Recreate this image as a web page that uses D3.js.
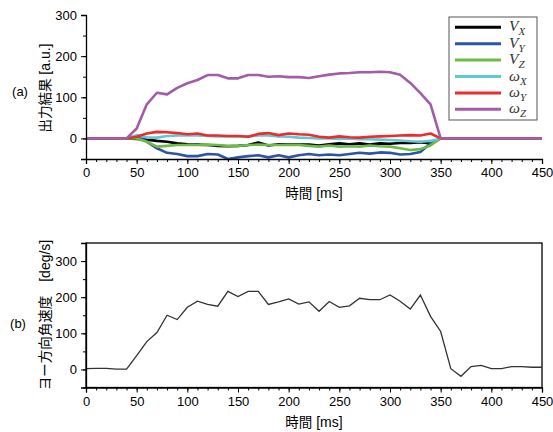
<!DOCTYPE html>
<html lang="ja">
<head>
<meta charset="utf-8">
<script src="https://d3js.org/d3.v7.min.js"></script>
<style>
  body { margin: 0; background: #fff; }
  svg text { font-family: "Liberation Sans", Arial, sans-serif; }
  .cjk { font-family: "Noto Sans CJK JP", sans-serif; }
  .math { font-family: "Liberation Serif", "DejaVu Serif", serif; font-style: italic; }
</style>
</head>
<body>
<svg id="chart" width="553" height="432"></svg>
<script>
// time axis (ms), sampled every 10 ms
var timeA = d3.range(0, 451, 10);

// panel (a) outputs [a.u.]
var vX  = [0,0,0,0,0,-1,-3,-6,-8,-12,-14,-15,-16,-18,-19,-18,-16,-10,-17,-14,-15,-15,-15,-17,-14,-12,-14,-12,-15,-12,-13,-11,-11,-9,-12,0,0,0,0,0,0,0,0,0,0,0];
var vY  = [0,0,0,0,0,6,-8,-24,-35,-38,-43,-43,-38,-39,-50,-46,-43,-41,-46,-41,-46,-41,-38,-41,-39,-41,-38,-35,-37,-34,-35,-39,-38,-33,-12,0,0,0,0,0,0,0,0,0,0,0];
var vZ  = [0,0,0,0,0,0,-8,-20,-18,-16,-16,-16,-15,-16,-18,-18,-16,-15,-16,-16,-16,-16,-18,-20,-17,-20,-19,-20,-17,-19,-20,-24,-28,-26,-17,0,0,0,0,0,0,0,0,0,0,0];
var wX  = [0,0,0,0,0,8,2,2,6,7,7,7,6,5,5,5,5,7,7,5,4,2,1,0,0,-1,0,-2,-2,-3,-4,-5,-7,-8,-6,0,0,0,0,0,0,0,0,0,0,0];
var wY  = [0,0,0,0,0,4,12,16,15,13,10,12,7,7,6,6,4,11,13,8,12,10,9,4,2,5,3,2,4,5,6,7,8,7,12,0,0,0,0,0,0,0,0,0,0,0];
var wZ  = [0,0,0,0,0,24,83,111,107,123,134,142,154,154,146,146,154,154,150,151,149,149,147,151,155,158,159,161,161,162,161,155,135,110,83,0,0,0,0,0,0,0,0,0,0,0];

// panel (b) yaw angular velocity [deg/s]
var yawRate = [2,3,3,1,1,38,77,102,150,138,172,189,180,175,216,202,216,216,180,187,195,181,187,161,188,172,176,197,193,193,206,189,167,206,147,105,2,-19,8,11,2,2,8,8,6,6];

var seriesNames  = ["V|X", "V|Y", "V|Z", "ω|X", "ω|Y", "ω|Z"];
var seriesColors = ["#000000", "#2b56a5", "#6cbb45", "#62c9d3", "#ee2b2b", "#a25ca9"];
var seriesValues = [vX, vY, vZ, wX, wY, wZ];

var svg = d3.select("#chart");
var left = 86, right = 542;

var x = d3.scaleLinear().domain([0, 450]).range([left, right]);

// ---------- panel (a)
var yA = d3.scaleLinear().domain([-50, 300]).range([159, 15]);

function minorAxes(g, scale, orient, majors, minors, len, minLen) {
  var ax = orient(scale).tickValues(minors).tickSize(minLen).tickFormat("");
  g.append("g").attr("class", "minor").call(ax);
  var axM = orient(scale).tickValues(majors).tickSize(len).tickPadding(4);
  var gm = g.append("g").call(axM);
  return gm;
}

function styleAxis(g) {
  g.selectAll(".domain").attr("stroke", "#000").attr("stroke-width", 1.3);
  g.selectAll(".tick line").attr("stroke", "#000").attr("stroke-width", 1);
  g.selectAll(".minor .domain").remove();
  g.selectAll("text").attr("font-size", 13).attr("fill", "#000")
    .attr("font-family", "'Liberation Sans', Arial, sans-serif");
}

function label(g, cjk, latin) {
  g.attr("font-size", 14).attr("fill", "#000");
  g.append("tspan").attr("class", "cjk").attr("font-size", 13.5).text(cjk);
  g.append("tspan").text(latin);
}

var gA = svg.append("g");

// lines
seriesValues.forEach(function(vals, i) {
  var line = d3.line().x(function(d, j) { return x(timeA[j]); }).y(function(d) { return yA(d); });
  gA.append("path").datum(vals)
    .attr("d", line)
    .attr("fill", "none")
    .attr("stroke", seriesColors[i])
    .attr("stroke-width", 2.6)
    .attr("stroke-linejoin", "round");
});

var axA_x = gA.append("g").attr("transform", "translate(0," + yA(-50) + ")");
minorAxes(axA_x, x, d3.axisBottom, d3.range(0, 451, 50), d3.range(0, 451, 10), 5, 3);
styleAxis(axA_x);
var axA_y = gA.append("g").attr("transform", "translate(" + left + ",0)");
minorAxes(axA_y, yA, d3.axisLeft, [0, 100, 200, 300], d3.range(-50, 301, 50), 5, 3);
styleAxis(axA_y);

label(gA.append("text").attr("x", (left + right) / 2).attr("y", 198)
  .attr("text-anchor", "middle"), "時間", " [ms]");

label(gA.append("text").attr("transform", "translate(50,88) rotate(-90)")
  .attr("text-anchor", "middle"), "出力結果", " [a.u.]");

gA.append("text").attr("x", 20).attr("y", 96).attr("text-anchor", "middle")
  .attr("font-size", 13).text("(a)");

// legend
var lg = gA.append("g").attr("transform", "translate(449,17)");
lg.append("rect").attr("width", 88).attr("height", 103)
  .attr("fill", "#fff").attr("stroke", "#555").attr("stroke-width", 1);
seriesNames.forEach(function(n, i) {
  var yy = 10.3 + i * 16.4;
  lg.append("line").attr("x1", 6).attr("x2", 52).attr("y1", yy).attr("y2", yy)
    .attr("stroke", seriesColors[i]).attr("stroke-width", 3);
  var parts = n.split("|");
  var t = lg.append("text").attr("class", "math").attr("x", 60).attr("y", yy + 4)
    .attr("font-size", 15.5).attr("fill", "#333");
  t.append("tspan").text(parts[0]);
  t.append("tspan").attr("dy", 4).attr("font-size", 11).text(parts[1]);
});

// ---------- panel (b)
var yB = d3.scaleLinear().domain([-50, 350]).range([387.5, 243]);
var gB = svg.append("g");

gB.append("rect").attr("x", left).attr("y", yB(350))
  .attr("width", right - left).attr("height", yB(-50) - yB(350))
  .attr("fill", "none").attr("stroke", "#000").attr("stroke-width", 1.3);

gB.append("path").datum(yawRate)
  .attr("d", d3.line().x(function(d, j) { return x(timeA[j]); }).y(function(d) { return yB(d); }))
  .attr("fill", "none").attr("stroke", "#333").attr("stroke-width", 1.3);

var axB_x = gB.append("g").attr("transform", "translate(0," + yB(-50) + ")");
minorAxes(axB_x, x, d3.axisBottom, d3.range(0, 451, 50), d3.range(0, 451, 10), 5, 3);
styleAxis(axB_x);
var axB_y = gB.append("g").attr("transform", "translate(" + left + ",0)");
minorAxes(axB_y, yB, d3.axisLeft, [0, 100, 200, 300], d3.range(-50, 351, 50), 5, 3);
styleAxis(axB_y);

label(gB.append("text").attr("x", (left + right) / 2).attr("y", 427)
  .attr("text-anchor", "middle"), "時間", " [ms]");

label(gB.append("text").attr("transform", "translate(50,315) rotate(-90)")
  .attr("text-anchor", "middle"), "ヨー方向角速度", "\u2003[deg/s]");

gB.append("text").attr("x", 18).attr("y", 328).attr("text-anchor", "middle")
  .attr("font-size", 13).text("(b)");
</script>
</body>
</html>
